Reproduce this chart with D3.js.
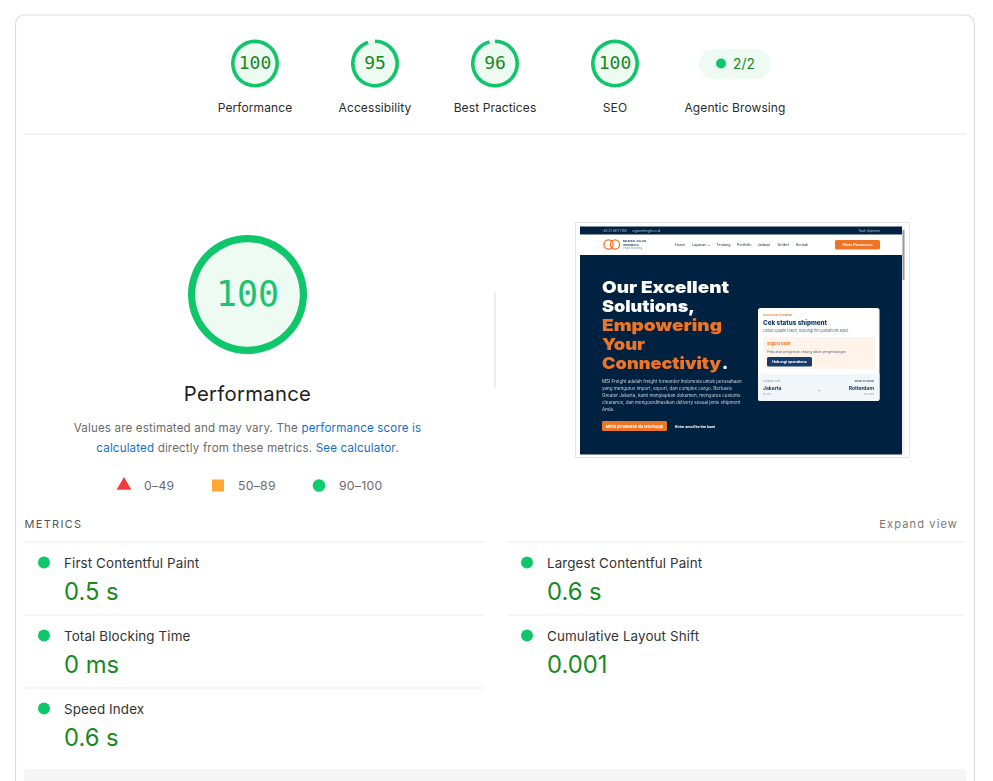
<!DOCTYPE html>
<html>
<head>
<meta charset="utf-8">
<script src="https://cdn.jsdelivr.net/npm/d3@7"></script>
<style>
  html, body { margin: 0; padding: 0; background: #fff; overflow: hidden; }
  svg { display: block; }
  text { font-family: Inter, "Noto Sans", sans-serif; }
  .mono { font-family: "DejaVu Sans Mono", monospace; }
</style>
</head>
<body>
<script>
// scores along the top
var categories = ["Performance", "Accessibility", "Best Practices", "SEO"];
var scores = [100, 95, 96, 100];
var agenticLabel = "Agentic Browsing";
var agenticScore = "2/2";

// big gauge
var mainCategory = "Performance";
var mainScore = 100;

// legend
var legendRanges = ["0–49", "50–89", "90–100"];
var legendShapes = ["triangle", "square", "circle"];
var legendColors = ["#f33a3a", "#ffa733", "#0cce6b"];

// metrics
var metricsLeft = ["First Contentful Paint", "Total Blocking Time", "Speed Index"];
var valuesLeft = ["0.5 s", "0 ms", "0.6 s"];
var metricsRight = ["Largest Contentful Paint", "Cumulative Layout Shift"];
var valuesRight = ["0.6 s", "0.001"];

// text in the page screenshot
var heroLines = ["Our Excellent", "Solutions,", "Empowering", "Your", "Connectivity"];
var heroWidths = [127, 93, 120, 43, 119];
var heroColors = ["#fff", "#fff", "#ee7428", "#ee7428", "#ee7428"];
var heroParagraph = [
  "MSI Freight adalah freight forwarder Indonesia untuk perusahaan",
  "yang mengurus import, export, dan complex cargo. Berbasis",
  "Greater Jakarta, kami menyiapkan dokumen, mengurus customs",
  "clearance, dan mengoordinasikan delivery sesuai jenis shipment",
  "Anda."
];
var navItems = ["Home", "Layanan ⌄", "Tentang", "Portfolio", "Jadwal", "Artikel", "Kontak"];

var green = "#0fc66b", greenFill = "#eefbf3", scoreText = "#178a1f";
var w = 993, h = 781;

var svg = d3.select("body").append("svg")
    .attr("width", w)
    .attr("height", h);

// card
svg.append("rect")
    .attr("x", 15.5).attr("y", 15)
    .attr("width", 959).attr("height", 800)
    .attr("rx", 9)
    .attr("fill", "#fff")
    .attr("stroke", "#dcdcdc")
    .attr("stroke-width", 1.2);

var angle = d3.scaleLinear().domain([0, 100]).range([0, 2 * Math.PI]);

function gauge(g, score, r, thick, fontSize, color) {
  g.append("circle").attr("r", r).attr("fill", greenFill);
  g.append("path")
      .attr("d", d3.arc()
        .innerRadius(r - thick)
        .outerRadius(r)
        .startAngle(0)
        .endAngle(angle(score)))
      .attr("fill", green);
  g.append("text")
      .attr("class", "mono")
      .attr("text-anchor", "middle")
      .attr("y", fontSize * 0.32)
      .attr("font-size", fontSize)
      .attr("fill", color)
      .text(score);
}

// top row
var topX = d3.scalePoint()
    .domain(categories.concat([agenticLabel]))
    .range([255, 735]);

categories.forEach(function(c, i) {
  gauge(svg.append("g").attr("transform", "translate(" + topX(c) + ",63.5)"),
    scores[i], 24, 3.6, 18, scoreText);
});

svg.selectAll(".topLabel")
    .data(categories.concat([agenticLabel]))
    .enter().append("text")
    .attr("class", "topLabel")
    .attr("x", function(d) { return topX(d); })
    .attr("y", 112)
    .attr("text-anchor", "middle")
    .attr("font-size", 12)
    .attr("letter-spacing", 0.1)
    .attr("fill", "#2b2b2b")
    .text(function(d) { return d; });

// agentic pill
svg.append("rect")
    .attr("x", 699).attr("y", 49)
    .attr("width", 72).attr("height", 30)
    .attr("rx", 15)
    .attr("fill", greenFill);
svg.append("circle").attr("cx", 721).attr("cy", 63.5).attr("r", 5).attr("fill", green);
svg.append("text")
    .attr("x", 733).attr("y", 69)
    .attr("font-size", 13.8)
    .attr("fill", scoreText)
    .text(agenticScore);

svg.append("line")
    .attr("x1", 24).attr("x2", 966)
    .attr("y1", 134).attr("y2", 134)
    .attr("stroke", "#ececec").attr("stroke-width", 1.5);

// big gauge
gauge(svg.append("g").attr("transform", "translate(247.5,294.5)"),
  mainScore, 59.5, 7.2, 35, "#1ac46f");

svg.append("text")
    .attr("x", 247.5).attr("y", 400.5)
    .attr("text-anchor", "middle")
    .attr("font-size", 20.3)
    .attr("letter-spacing", 0.3)
    .attr("fill", "#212121")
    .text(mainCategory);

// description
var desc1 = svg.append("text")
    .attr("x", 247.5).attr("y", 432)
    .attr("text-anchor", "middle")
    .attr("font-size", 11.6)
    .attr("letter-spacing", 0.15)
    .attr("fill", "#6b6b6b");
desc1.append("tspan").text("Values are estimated and may vary. The ");
desc1.append("tspan").attr("fill", "#1a6fc4").text("performance score is");

var desc2 = svg.append("text")
    .attr("x", 247.5).attr("y", 452)
    .attr("text-anchor", "middle")
    .attr("font-size", 11.6)
    .attr("letter-spacing", 0.15)
    .attr("fill", "#6b6b6b");
desc2.append("tspan").attr("fill", "#1a6fc4").text("calculated");
desc2.append("tspan").text(" directly from these metrics. ");
desc2.append("tspan").attr("fill", "#1a6fc4").text("See calculator.");

// legend
var legendX = d3.scaleOrdinal().domain(legendRanges).range([124, 218, 319]);
var symbolTypes = { triangle: d3.symbolTriangle, square: d3.symbolSquare, circle: d3.symbolCircle };
var legendSizes = { triangle: 95, square: 144, circle: 125 };

var legend = svg.selectAll(".legend")
    .data(legendRanges)
    .enter().append("g")
    .attr("class", "legend")
    .attr("transform", function(d) { return "translate(" + legendX(d) + ",485.5)"; });
legend.append("path")
    .attr("d", function(d, i) {
      return d3.symbol().type(symbolTypes[legendShapes[i]]).size(legendSizes[legendShapes[i]])();
    })
    .attr("fill", function(d, i) { return legendColors[i]; });
legend.append("text")
    .attr("x", 20).attr("y", 4.5)
    .attr("font-size", 12.2)
    .attr("letter-spacing", 0.3)
    .attr("fill", "#6b6b6b")
    .text(function(d) { return d; });

// metrics header
svg.append("text")
    .attr("x", 24.5).attr("y", 528)
    .attr("font-size", 11)
    .attr("letter-spacing", 1.3)
    .attr("fill", "#555")
    .text("METRICS");
svg.append("text")
    .attr("x", 958).attr("y", 528)
    .attr("text-anchor", "end")
    .attr("font-size", 11)
    .attr("letter-spacing", 1.15)
    .attr("fill", "#777")
    .text("Expand view");

var rowY = d3.scaleBand().domain([0, 1, 2]).range([542, 761]);

function metricColumn(names, values, x0, x1) {
  var row = svg.selectAll(".row" + x0)
      .data(names)
      .enter().append("g")
      .attr("class", "row" + x0)
      .attr("transform", function(d, i) { return "translate(" + x0 + "," + rowY(i) + ")"; });
  row.append("line")
      .attr("x2", x1 - x0)
      .attr("stroke", "#f0f0f0").attr("stroke-width", 1.5);
  row.append("circle")
      .attr("cx", 20).attr("cy", 20.5).attr("r", 6)
      .attr("fill", green);
  row.append("text")
      .attr("x", 40).attr("y", 25.5)
      .attr("font-size", 13.4)
      .attr("letter-spacing", 0.12)
      .attr("fill", "#333")
      .text(function(d) { return d; });
  row.append("text")
      .attr("x", 40).attr("y", 58)
      .attr("font-size", 23.8)
      .attr("fill", scoreText)
      .text(function(d, i) { return values[i]; });
}
metricColumn(metricsLeft, valuesLeft, 24, 484);
metricColumn(metricsRight, valuesRight, 507, 965);

// grey block cut off by the bottom edge
svg.append("rect")
    .attr("x", 24).attr("y", 769)
    .attr("width", 942).attr("height", 30)
    .attr("rx", 4)
    .attr("fill", "#f5f5f5");

// divider between gauge and screenshot
svg.append("line")
    .attr("x1", 495).attr("x2", 495)
    .attr("y1", 292).attr("y2", 388)
    .attr("stroke", "#e6e6e6").attr("stroke-width", 1.5);

// page screenshot
var shot = svg.append("g");
var soft = svg.append("defs").append("filter").attr("id", "soft");
soft.append("feGaussianBlur").attr("stdDeviation", 0.35);

shot.append("rect")
    .attr("x", 575.5).attr("y", 222.5)
    .attr("width", 334).attr("height", 235)
    .attr("fill", "#fff")
    .attr("stroke", "#e4e4e4");

function box(x, y, bw, bh, fill, rx) {
  return page.append("rect")
      .attr("x", x).attr("y", y)
      .attr("width", bw).attr("height", bh)
      .attr("rx", rx || 0)
      .attr("fill", fill);
}
function label(x, y, str, size, fill, weight, anchor, len) {
  var t = page.append("text")
      .attr("x", x).attr("y", y)
      .attr("font-size", size)
      .attr("font-weight", weight || 400)
      .attr("text-anchor", anchor || "start")
      .attr("fill", fill)
      .text(str);
  if (len) t.attr("textLength", len).attr("lengthAdjust", "spacingAndGlyphs");
  return t;
}

var page = shot.append("g").attr("filter", "url(#soft)");
var navy = "#04223f", orange = "#ee7428", blue = "#123a6b";

box(580, 226.5, 322, 228, navy);
box(580, 234.5, 322, 20.5, "#fff");
label(602, 232, "+62 21 3971 7100", 3, "#b9c4d0");
label(632, 232, "cs@msifreight.co.id", 3, "#b9c4d0");
label(880, 232, "Track shipment", 3, "#b9c4d0", 400, "end");

// logo
page.append("circle").attr("cx", 608.5).attr("cy", 244.5).attr("r", 4.6)
    .attr("fill", "none").attr("stroke", orange).attr("stroke-width", 1.3);
page.append("circle").attr("cx", 615).attr("cy", 244.5).attr("r", 4.6)
    .attr("fill", "none").attr("stroke", orange).attr("stroke-width", 1.3);
label(623, 242, "MILENIAL SOLUSI", 2.7, blue, 700);
label(623, 245.5, "INTERNUSA", 2.7, blue, 700);
label(623, 249, "Freight forwarding", 2.2, "#7a8da3");

var navX = d3.scaleOrdinal().domain(navItems).range([675, 692, 716.5, 737, 757.5, 777.5, 796]);
navItems.forEach(function(n) { label(navX(n), 245.5, n, 3.6, "#3a4a5c", 500); });
box(835, 240, 45, 9.5, orange, 1.5);
label(857.5, 246, "Minta Penawaran", 3.6, "#fff", 600, "middle");

// headline
heroLines.forEach(function(s, i) {
  label(602, 293 + i * 19, s, 16.5, heroColors[i], 900, "start", heroWidths[i]);
});
label(722, 369, ".", 16.5, "#fff", 900);

heroParagraph.forEach(function(s, i) {
  label(602, 382.5 + i * 7.15, s, 4.55, "#c5d0db", 400);
});

box(602, 421, 65, 10, orange, 1.5);
label(634.5, 427.5, "Minta penawaran via WhatsApp", 3.7, "#fff", 700, "middle");
label(675, 427.5, "Kirim email ke tim kami", 3.6, "#fff", 700);

// status card
box(758, 308, 121.5, 93, "#fff", 2.5);
page.append("path")
    .attr("d", "M758,374H879.5V398.5a2.5,2.5 0 0 1 -2.5,2.5H760.5a2.5,2.5 0 0 1 -2.5,-2.5Z")
    .attr("fill", "#f3f6f9");
label(763, 315.5, "PANTAUAN SHIPMENT", 2.7, orange, 600);
label(763, 324.5, "Cek status shipment", 6.8, blue, 800, "start", 64);
label(763, 331.5, "Untuk update token, hubungi tim operations kami.", 3.8, "#5b6b7b", 400, "start", 86);
box(763, 337, 112, 32, "#fff3ea", 1);
label(767, 344.5, "Segera hadir", 3.8, orange, 700);
label(767, 352.5, "Pelacakan pengiriman sedang dalam pengembangan", 3.6, "#5b6b7b", 400, "start", 79);
box(767, 357, 45, 9.5, blue, 1.5);
label(789.5, 363.2, "Hubungi operations", 3.6, "#fff", 700, "middle");
label(763, 382, "Layanan Aktif", 2.7, "#8a97a5");
label(874, 382, "DOOR TO DOOR", 2.5, blue, 600, "end");
label(763, 390, "Jakarta", 5, blue, 700);
label(874, 390, "Rotterdam", 5, blue, 700, "end");
label(763, 394.5, "ID JKT", 2.7, "#8a97a5");
label(874, 394.5, "NL RTM", 2.7, "#8a97a5", 400, "end");
label(819, 392, "→", 4, "#8a97a5", 400, "middle");

// scrollbar
box(902, 226.5, 3, 228, "#f3f3f3");
box(902.5, 230, 2, 50, "#9a9a9a", 1);
</script>
</body>
</html>
